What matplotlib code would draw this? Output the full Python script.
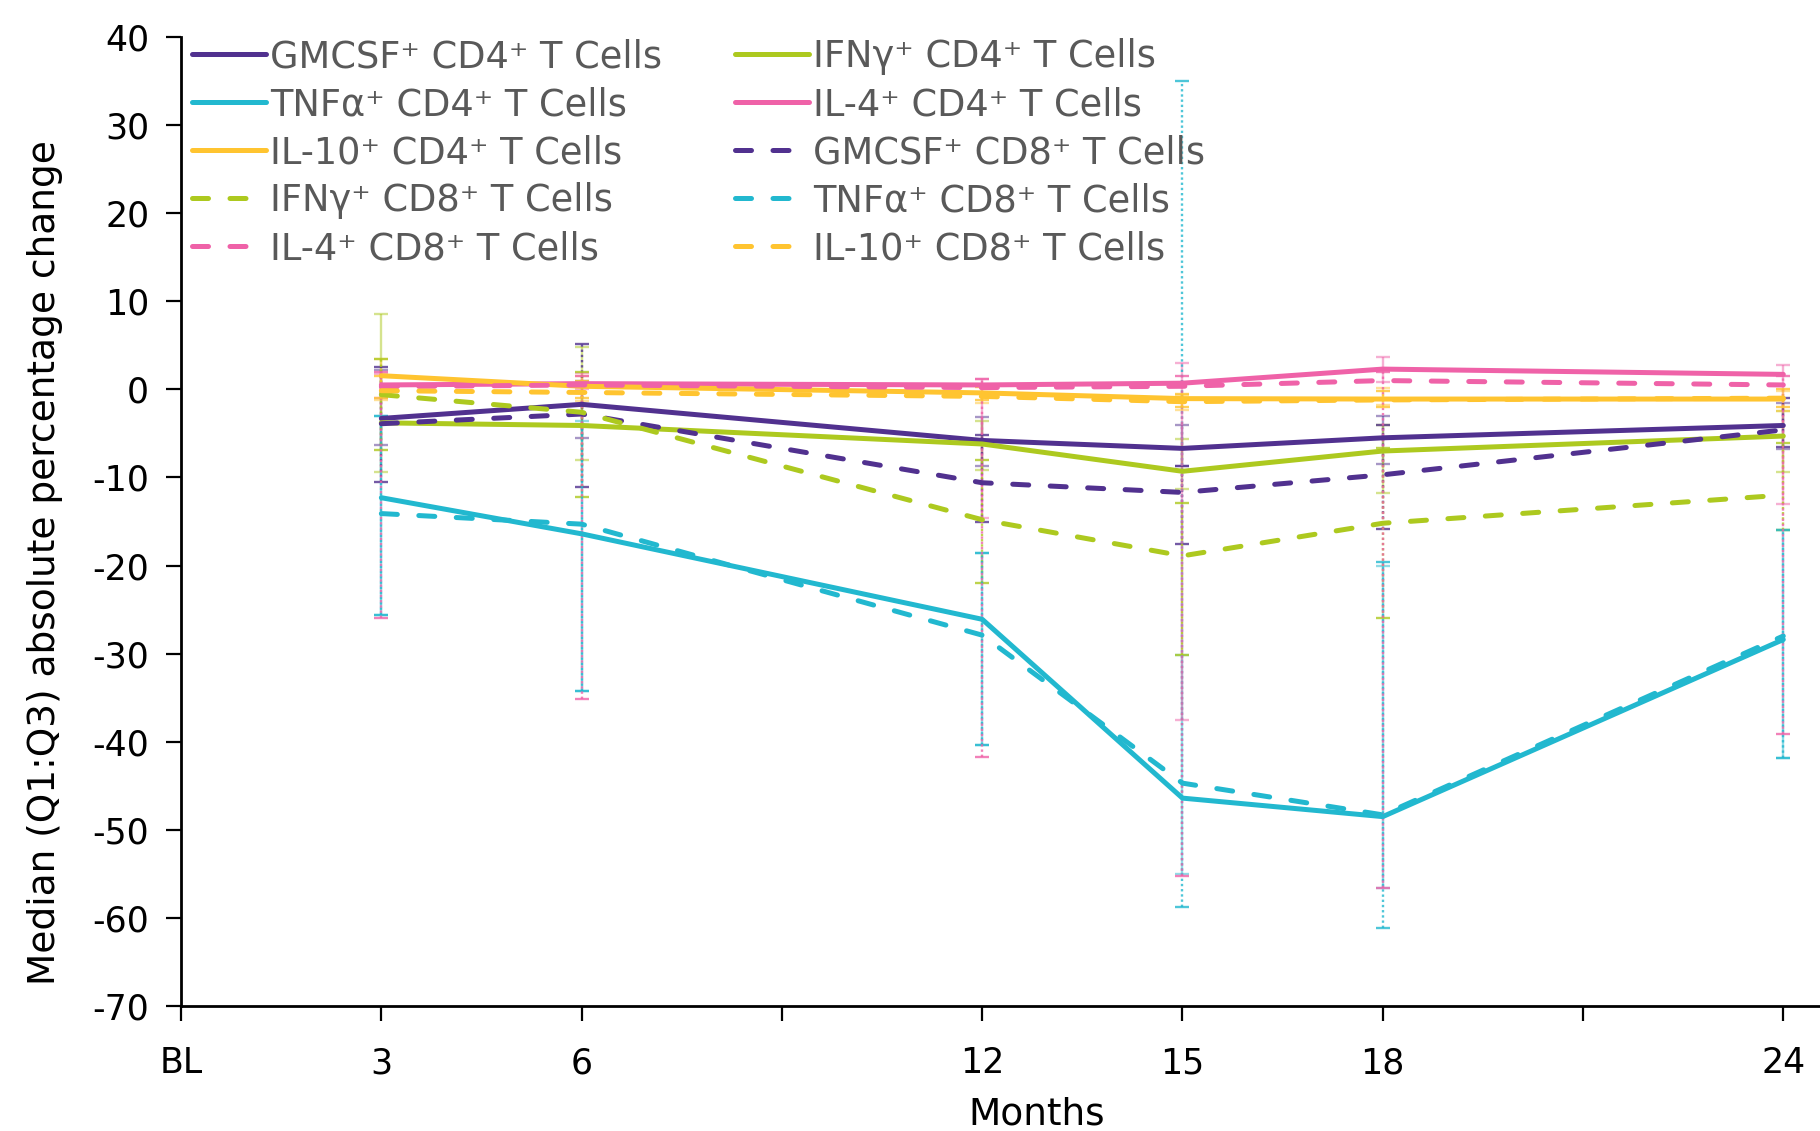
import numpy as np
import matplotlib.pyplot as plt

plt.rcParams["axes.unicode_minus"] = False

months = [3, 6, 12, 15, 18, 24]
tick_pos = [0, 3, 6, 9, 12, 15, 18, 21, 24]
tick_labels = ["BL", "3", "6", "", "12", "15", "18", "", "24"]

labels = [
    "GMCSF⁺ CD4⁺ T Cells", "IFNγ⁺ CD4⁺ T Cells", "TNFα⁺ CD4⁺ T Cells",
    "IL-4⁺ CD4⁺ T Cells", "IL-10⁺ CD4⁺ T Cells",
    "GMCSF⁺ CD8⁺ T Cells", "IFNγ⁺ CD8⁺ T Cells", "TNFα⁺ CD8⁺ T Cells",
    "IL-4⁺ CD8⁺ T Cells", "IL-10⁺ CD8⁺ T Cells",
]
colors = ["#51318f", "#adc91f", "#22b8cf", "#ef62a8", "#ffc430"] * 2

# medians
gmcsf_cd4 = [-3.3, -1.7, -5.8, -6.7, -5.5, -4.1]
ifng_cd4 = [-3.8, -4.1, -6.2, -9.3, -7.0, -5.3]
tnfa_cd4 = [-12.3, -16.4, -26.1, -46.4, -48.5, -28.4]
il4_cd4 = [0.5, 0.65, 0.5, 0.7, 2.3, 1.7]
il10_cd4 = [1.55, 0.35, -0.4, -1.05, -1.1, -1.1]
gmcsf_cd8 = [-3.9, -2.8, -10.6, -11.7, -9.7, -4.6]
ifng_cd8 = [-0.6, -2.6, -14.8, -18.9, -15.2, -12.0]
tnfa_cd8 = [-14.1, -15.3, -27.9, -44.7, -48.3, -28.0]
il4_cd8 = [0.3, 0.5, 0.2, 0.35, 1.0, 0.5]
il10_cd8 = [-0.15, -0.35, -0.8, -1.4, -1.2, -1.0]

# Q1 / Q3
gmcsf_cd4_q1 = [-6.3, -5.5, -8.75, -8.7, -8.5, -6.8]
gmcsf_cd4_q3 = [2.2, 1.0, -3.1, -4.1, -3.0, -1.55]
ifng_cd4_q1 = [-9.4, -8.0, -9.1, -11.3, -11.8, -9.4]
ifng_cd4_q3 = [8.5, 4.8, -3.6, -5.6, -4.0, -2.5]
tnfa_cd4_q1 = [-25.6, -34.2, -40.4, -55.0, -56.6, -41.9]
tnfa_cd4_q3 = [-3.0, -3.6, -18.6, -30.1, -20.1, -16.0]
il4_cd4_q1 = [-1.0, 0.0, -14.6, -37.5, 0.8, -13.0]
il4_cd4_q3 = [1.8, 1.85, 1.2, 3.0, 3.65, 2.8]
il10_cd4_q1 = [-1.25, -1.3, -1.55, -2.3, -1.8, -2.5]
il10_cd4_q3 = [3.4, 1.5, 0.5, -0.6, 0.1, -0.2]
gmcsf_cd8_q1 = [-10.5, -11.1, -15.0, -17.5, -15.8, -6.5]
gmcsf_cd8_q3 = [2.5, 5.1, -5.2, -8.7, -4.0, -1.0]
ifng_cd8_q1 = [-6.9, -12.2, -22.0, -30.1, -26.0, -16.0]
ifng_cd8_q3 = [3.5, 2.0, -8.0, -12.9, -6.6, -6.1]
tnfa_cd8_q1 = [-25.6, -34.2, -40.4, -58.8, -61.1, -41.9]
tnfa_cd8_q3 = [-3.0, -4.0, -18.6, 35.0, -19.6, -16.0]
il4_cd8_q1 = [-26.0, -35.1, -41.7, -55.2, -56.6, -39.1]
il4_cd8_q3 = [2.0, 1.5, 1.2, 1.5, 2.0, 1.5]
il10_cd8_q1 = [-1.0, -1.0, -1.2, -2.0, -2.0, -2.0]
il10_cd8_q3 = [1.5, 1.0, 0.3, -0.5, -0.2, 0.0]

medians = [gmcsf_cd4, ifng_cd4, tnfa_cd4, il4_cd4, il10_cd4,
           gmcsf_cd8, ifng_cd8, tnfa_cd8, il4_cd8, il10_cd8]
q1s = [gmcsf_cd4_q1, ifng_cd4_q1, tnfa_cd4_q1, il4_cd4_q1, il10_cd4_q1,
       gmcsf_cd8_q1, ifng_cd8_q1, tnfa_cd8_q1, il4_cd8_q1, il10_cd8_q1]
q3s = [gmcsf_cd4_q3, ifng_cd4_q3, tnfa_cd4_q3, il4_cd4_q3, il10_cd4_q3,
       gmcsf_cd8_q3, ifng_cd8_q3, tnfa_cd8_q3, il4_cd8_q3, il10_cd8_q3]

fig = plt.figure(figsize=(18.2, 11.31), dpi=100)
ax = fig.add_axes([0.0995, 0.1105, 0.9005, 0.8568])

# error bars first so the median lines sit on top
for i in range(10):
    med = np.array(medians[i])
    lo = med - np.array(q1s[i])
    hi = np.array(q3s[i]) - med
    cd8 = i >= 5
    eb = ax.errorbar(months, med, yerr=[lo, hi], fmt="none", ecolor=colors[i],
                     elinewidth=1.7, capsize=5, capthick=1.7,
                     alpha=0.8 if cd8 else 0.5, zorder=1)
    if cd8:
        eb[2][0].set_linestyle((0, (1, 1.2)))

handles = []
for i in range(10):
    if i < 5:
        ln, = ax.plot(months, medians[i], color=colors[i], lw=3.6,
                      solid_capstyle="round", zorder=3)
    else:
        ln, = ax.plot(months, medians[i], color=colors[i], lw=3.6,
                      dashes=(3.2, 4.3), dash_capstyle="round", zorder=3)
    handles.append(ln)

ax.set_xlim(0, 24.55)
ax.set_ylim(-70, 40)
ax.set_xticks(tick_pos)
ax.set_xticklabels(tick_labels)
ax.set_yticks(np.arange(-70, 41, 10))
ax.tick_params(axis="x", direction="out", length=11, width=1.6, labelsize=25, pad=18)
ax.tick_params(axis="y", direction="out", length=11, width=1.6, labelsize=25, pad=12)
for side in ["top", "right"]:
    ax.spines[side].set_visible(False)
for side in ["left", "bottom"]:
    ax.spines[side].set_linewidth(2)

ax.set_xlabel("Months", fontsize=27)
ax.xaxis.set_label_coords(0.522, -0.093)
ax.set_ylabel("Median (Q1:Q3) absolute percentage change", fontsize=27)
ax.yaxis.set_label_coords(-0.072, 0.458)

leg_kw = dict(loc="upper left", frameon=False, fontsize=26.5, handlelength=2.0,
              handletextpad=0.12, labelspacing=0.30, borderpad=0, borderaxespad=0,
              labelcolor="#595959")
leg1 = ax.legend([handles[j] for j in (0, 2, 4, 6, 8)],
                 [labels[j] for j in (0, 2, 4, 6, 8)],
                 bbox_to_anchor=(192 / 1820, 1 - 38 / 1131),
                 bbox_transform=fig.transFigure, **leg_kw)
ax.add_artist(leg1)
ax.legend([handles[j] for j in (1, 3, 5, 7, 9)],
          [labels[j] for j in (1, 3, 5, 7, 9)],
          bbox_to_anchor=(735 / 1820, 1 - 38 / 1131),
          bbox_transform=fig.transFigure, **leg_kw)

fig.savefig("out.png", dpi=100)
